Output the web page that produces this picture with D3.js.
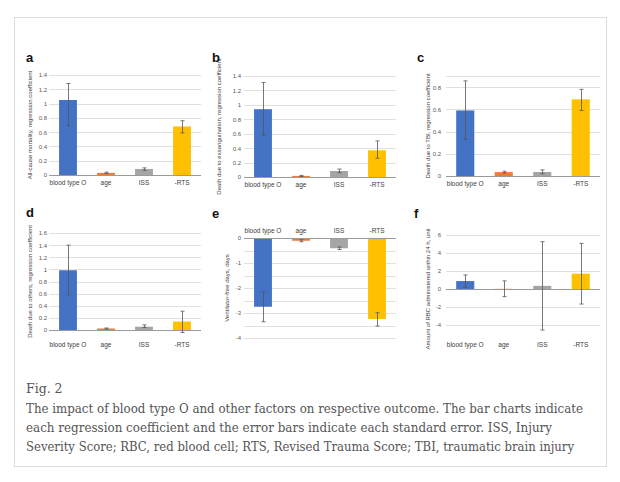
<!DOCTYPE html>
<html><head><meta charset="utf-8">
<script src="https://cdn.jsdelivr.net/npm/d3@7"></script>
<style>body{margin:0;background:#fff}</style></head>
<body>
<svg id="chart" width="620" height="482"></svg>
<script>
// ---------- data ----------
const categories = ["blood type O", "age", "ISS", "-RTS"];
const barColors = ["#4472C4", "#ED7D31", "#A5A5A5", "#FFC000"];
const panelLetters = ["a", "b", "c", "d", "e", "f"];
const yTitles = [
  "All-cause mortality, regression coefficient",
  "Death due to exsanguination, regression coefficient",
  "Death due to TBI, regression coefficient",
  "Death due to others, regression coefficient",
  "Ventilator-free days, days",
  "Amount of RBC administered within 24 h, unit"
];
// coefficient, lower and upper end of error bar
const valA = [1.05, 0.03, 0.085, 0.68], lowA = [0.69, 0.02, 0.065, 0.59], highA = [1.28, 0.04, 0.10, 0.76];
const valB = [0.94, 0.015, 0.083, 0.37], lowB = [0.58, 0.008, 0.06, 0.26], highB = [1.31, 0.022, 0.11, 0.50];
const valC = [0.59, 0.035, 0.036, 0.69], lowC = [0.33, 0.027, 0.02, 0.59], highC = [0.856, 0.043, 0.055, 0.78];
const valD = [0.985, 0.025, 0.055, 0.14], lowD = [0.58, 0.017, 0.04, -0.04], highD = [1.40, 0.033, 0.085, 0.31];
const valE = [-2.75, -0.11, -0.41, -3.24], lowE = [-3.35, -0.15, -0.46, -3.52], highE = [-2.15, -0.07, -0.36, -2.99];
const valF = [0.88, 0.02, 0.35, 1.7], lowF = [0.19, -0.85, -4.56, -1.67], highF = [1.56, 0.9, 5.26, 5.07];
// axis ticks
const ticksA = [0, 0.2, 0.4, 0.6, 0.8, 1, 1.2, 1.4];
const ticksB = [0, 0.2, 0.4, 0.6, 0.8, 1, 1.2, 1.4];
const ticksC = [0, 0.2, 0.4, 0.6, 0.8];
const ticksD = [0, 0.2, 0.4, 0.6, 0.8, 1, 1.2, 1.4, 1.6];
const ticksE = [0, -1, -2, -3, -4];
const ticksF = [6, 4, 2, 0, -2, -4];
const gridE = [0, -0.5, -1, -1.5, -2, -2.5, -3, -3.5, -4];
const captionTitle = "Fig. 2";
const captionLines = [
  "The impact of blood type O and other factors on respective outcome. The bar charts indicate",
  "each regression coefficient and the error bars indicate each standard error. ISS, Injury",
  "Severity Score; RBC, red blood cell; RTS, Revised Trauma Score; TBI, traumatic brain injury"
];

// ---------- layout ----------
const layout = [
  {x0: 49, x1: 201, domain: [0, 1.4], range: [175, 75], lx: 26, ly: 62, tx: 30, kx: 47, catY: 185},
  {x0: 244, x1: 396, domain: [0, 1.4], range: [177, 76], lx: 212, ly: 62, tx: 219, kx: 241, catY: 187},
  {x0: 446, x1: 600, domain: [0, 0.9], range: [176, 76], lx: 417, ly: 62, tx: 428, kx: 441, catY: 186},
  {x0: 49, x1: 201, domain: [0, 1.6], range: [330, 233], lx: 26, ly: 217, tx: 30, kx: 47, catY: 347},
  {x0: 244, x1: 396, domain: [-4, 0], range: [338, 238], lx: 212, ly: 218, tx: 227, kx: 241, catY: 233},
  {x0: 446, x1: 600, domain: [-6, 6], range: [343, 235], lx: 414, ly: 218, tx: 428, kx: 441, catY: 347}
];
const panelData = [
  {val: valA, low: lowA, high: highA, ticks: ticksA, grid: ticksA},
  {val: valB, low: lowB, high: highB, ticks: ticksB, grid: ticksB},
  {val: valC, low: lowC, high: highC, ticks: ticksC, grid: ticksC.concat([0.9])},
  {val: valD, low: lowD, high: highD, ticks: ticksD, grid: ticksD},
  {val: valE, low: lowE, high: highE, ticks: ticksE, grid: gridE},
  {val: valF, low: lowF, high: highF, ticks: ticksF, grid: ticksF}
];

const svg = d3.select("#chart");
svg.append("rect").attr("x", 14.5).attr("y", 17.5).attr("width", 592).attr("height", 449)
  .attr("fill", "#fff").attr("stroke", "#dcdcdc").attr("stroke-width", 1);

const sans = "Liberation Sans, Arial, sans-serif";

layout.forEach((L, i) => {
  const D = panelData[i];
  const g = svg.append("g");
  const x = d3.scaleBand().domain(categories).range([L.x0, L.x1]).paddingInner(0.53).paddingOuter(0.265);
  const y = d3.scaleLinear().domain(L.domain).range(L.range);

  // gridlines
  g.selectAll(".grid").data(D.grid.filter(v => v !== 0)).join("line")
    .attr("x1", L.x0).attr("x2", L.x1)
    .attr("y1", d => Math.round(y(d)) + 0.5).attr("y2", d => Math.round(y(d)) + 0.5)
    .attr("stroke", "#e0e0e0").attr("stroke-width", 1);

  // y tick labels
  const yAxis = d3.axisLeft(y).tickValues(D.ticks).tickSize(0).tickPadding(0).tickFormat(d => String(d));
  const ax = g.append("g").attr("transform", `translate(${L.kx},0)`).call(yAxis);
  ax.select(".domain").remove();
  ax.selectAll("text").attr("font-family", sans).attr("font-size", 6).attr("fill", "#595959");

  // bars
  g.selectAll(".bar").data(D.val).join("rect")
    .attr("x", (d, j) => x(categories[j]))
    .attr("width", x.bandwidth())
    .attr("y", d => Math.min(y(d), y(0)))
    .attr("height", d => Math.abs(y(d) - y(0)))
    .attr("fill", (d, j) => barColors[j]);

  // zero line
  g.append("line").attr("x1", L.x0).attr("x2", L.x1)
    .attr("y1", Math.round(y(0)) + 0.5).attr("y2", Math.round(y(0)) + 0.5)
    .attr("stroke", "#9a9a9a").attr("stroke-width", 1);

  // error bars
  const cx = j => x(categories[j]) + x.bandwidth() / 2;
  D.val.forEach((v, j) => {
    const c = Math.round(cx(j)) + 0.5;
    const eg = g.append("g").attr("stroke", "#555").attr("stroke-width", 0.8);
    eg.append("line").attr("x1", c).attr("x2", c).attr("y1", y(D.low[j])).attr("y2", y(D.high[j]));
    eg.append("line").attr("x1", c - 2).attr("x2", c + 2).attr("y1", y(D.low[j])).attr("y2", y(D.low[j]));
    eg.append("line").attr("x1", c - 2).attr("x2", c + 2).attr("y1", y(D.high[j])).attr("y2", y(D.high[j]));
  });

  // category labels
  g.selectAll(".cat").data(categories).join("text")
    .attr("x", d => x(d) + x.bandwidth() / 2).attr("y", L.catY)
    .attr("text-anchor", "middle").attr("font-family", sans).attr("font-size", 6.5)
    .attr("fill", "#404040").text(d => d);

  // y title
  const my = (L.range[0] + L.range[1]) / 2;
  g.append("text").attr("transform", `translate(${L.tx},${my}) rotate(-90)`)
    .attr("text-anchor", "middle").attr("dy", "0.35em")
    .attr("font-family", sans).attr("font-size", 6).attr("fill", "#404040")
    .text(yTitles[i]);

  // panel letter
  g.append("text").attr("x", L.lx).attr("y", L.ly)
    .attr("font-family", sans).attr("font-weight", "bold").attr("font-size", 13)
    .attr("fill", "#111").text(panelLetters[i]);
});

// caption
const serif = "DejaVu Serif, Liberation Serif, serif";
svg.append("text").attr("x", 26).attr("y", 393).attr("font-family", serif).attr("font-size", 12.5)
  .attr("fill", "#555").text(captionTitle);
const capLens = [557, 526, 548];
captionLines.forEach((t, k) => {
  svg.append("text").attr("x", 26).attr("y", 413 + k * 19)
    .attr("font-family", serif).attr("font-size", 12.5).attr("fill", "#555")
    .attr("textLength", capLens[k]).attr("lengthAdjust", "spacingAndGlyphs")
    .text(t);
});
</script>
</body></html>
